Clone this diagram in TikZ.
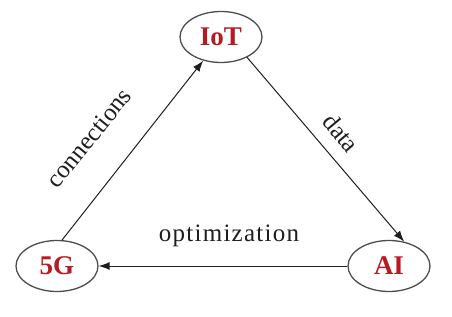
\documentclass[tikz,border=0pt]{standalone}
\usepackage{fontspec}
\setmainfont{Liberation Serif}
\usetikzlibrary{shapes.geometric,arrows.meta}

\definecolor{techred}{RGB}{180,28,34}
\definecolor{edgegray}{RGB}{30,30,30}

\tikzset{
  tech/.style={ellipse, draw=black!70, line width=1.3pt, inner sep=0pt,
    minimum width=82pt, minimum height=51pt, text=techred,
    font=\fontsize{27}{30}\selectfont\bfseries},
  link/.style={draw=edgegray, line width=1pt, -{Latex[length=11pt,width=8pt]}},
  linklabel/.style={text=edgegray, font=\fontsize{25}{28}\selectfont}
}

\begin{document}
\begin{tikzpicture}[x=1pt,y=1pt]
\useasboundingbox (0,0) rectangle (452,316);

% the three technologies
\node[tech] (iot) at (221,279) {IoT};
\node[tech] (g5)  at (57,50)   {5G};
\node[tech] (ai)  at (389,50)  {AI};

% links between them
\draw[link] (g5.79)   -- (iot.233);
\draw[link] (iot.322) -- (ai.58);
\draw[link] (ai)      -- (g5);

% what each link carries
\node[linklabel, rotate=51]  (conn) at (89,178)  {connections};
\node[linklabel, rotate=-50] (data) at (341,183) {data};
\node[linklabel] (opt) at (229,80) {\addfontfeatures{LetterSpace=5}optimization};

\end{tikzpicture}
\end{document}
